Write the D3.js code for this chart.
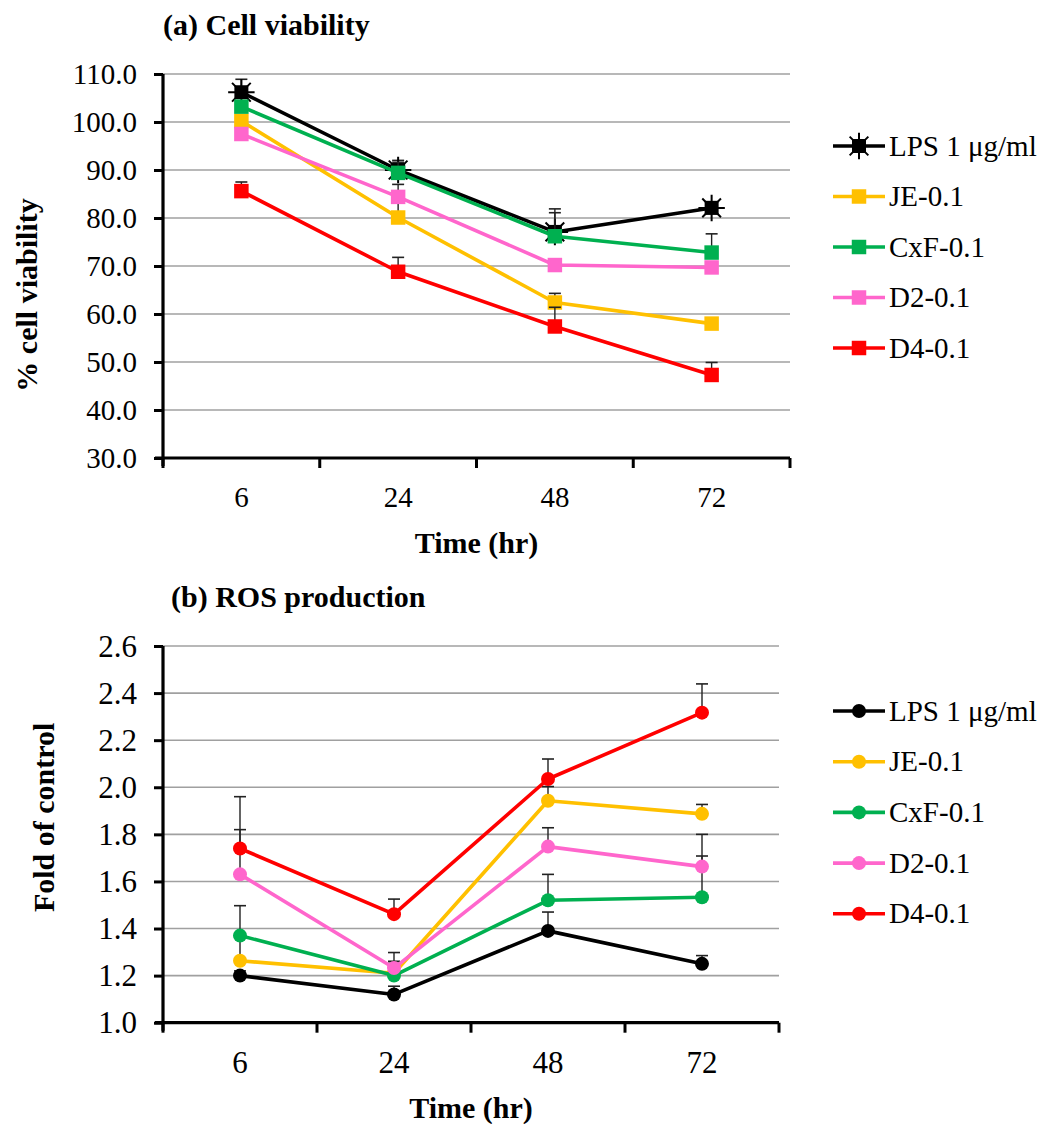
<!DOCTYPE html>
<html>
<head>
<meta charset="utf-8">
<script src="https://cdn.jsdelivr.net/npm/d3@7"></script>
<style>
  html, body { margin: 0; padding: 0; background: #fff; }
  svg { display: block; }
  svg text { font-family: "Liberation Serif", "Times New Roman", Times, serif !important; fill: #000; }
</style>
</head>
<body>
<svg id="fig" width="1051" height="1124"></svg>
<script>
// Time points (hours) shared by both panels
const timeLabels = ["6", "24", "48", "72"];
const seriesNames = ["LPS 1 μg/ml", "JE-0.1", "CxF-0.1", "D2-0.1", "D4-0.1"];
const seriesColors = ["#000000", "#FFC000", "#00B050", "#FF66CC", "#FF0000"];

// (a) Cell viability, % (mean per series, then +SD)
const viabilityMeans = [
  [106.2, 90.0, 77.1, 82.1],
  [100.2, 80.1, 62.4, 58.0],
  [103.2, 89.4, 76.2, 72.8],
  [97.5, 84.4, 70.2, 69.7],
  [85.6, 68.8, 57.4, 47.3]
];
const viabilityErrors = [
  [2.7, 2.0, 4.8, 1.3],
  [1.0, 3.8, 1.9, 0.8],
  [1.0, 2.2, 4.9, 3.9],
  [1.0, 2.6, 1.0, 1.0],
  [1.9, 3.0, 4.0, 2.6]
];
const viabilityTicks = [30, 40, 50, 60, 70, 80, 90, 100, 110];

// (b) ROS production, fold of control
const rosMeans = [
  [1.20, 1.12, 1.39, 1.25],
  [1.263, 1.21, 1.943, 1.887],
  [1.37, 1.20, 1.52, 1.533],
  [1.63, 1.232, 1.748, 1.663],
  [1.74, 1.461, 2.035, 2.317]
];
const rosErrors = [
  [0.02, 0.035, 0.08, 0.035],
  [0.10, 0.05, 0.06, 0.04],
  [0.127, 0.06, 0.11, 0.175],
  [0.19, 0.066, 0.08, 0.137],
  [0.22, 0.064, 0.085, 0.122]
];
const rosTicks = [1.0, 1.2, 1.4, 1.6, 1.8, 2.0, 2.2, 2.4, 2.6];

const FONT = '"Liberation Serif", "Times New Roman", Times, serif';
const svg = d3.select("#fig");

function drawPanel(cfg) {
  const g = svg.append("g").attr("font-family", FONT);
  const x = d3.scaleBand().domain(timeLabels).range([cfg.left, cfg.right]);
  const y = d3.scaleLinear().domain(d3.extent(cfg.ticks)).range([cfg.bottom, cfg.top]);
  const cx = t => x(t) + x.bandwidth() / 2;

  // horizontal gridlines
  g.append("g").selectAll("line").data(cfg.ticks.slice(1)).join("line")
    .attr("x1", cfg.left).attr("x2", cfg.right)
    .attr("y1", d => y(d)).attr("y2", d => y(d))
    .attr("stroke", "#a0a0a0").attr("stroke-width", 1.6);

  // y axis
  const yAxis = g.append("g").attr("transform", `translate(${cfg.left},0)`)
    .call(d3.axisLeft(y).tickValues(cfg.ticks).tickFormat(d3.format(".1f"))
      .tickSize(9).tickPadding(17))
    .attr("font-family", FONT);
  yAxis.select(".domain").attr("stroke", "#000").attr("stroke-width", 3.2)
    .attr("d", `M0,${cfg.top}V${cfg.bottom + 8}`);
  yAxis.selectAll(".tick line").attr("stroke", "#000").attr("stroke-width", 3);
  yAxis.selectAll(".tick text").attr("font-size", cfg.tickFont)
    .attr("dy", "0.33em").attr("fill", "#111");

  // x axis: labels at category centres, tick marks on category boundaries
  const xAxis = g.append("g").attr("transform", `translate(0,${cfg.bottom})`)
    .call(d3.axisBottom(x).tickSize(0).tickPadding(0))
    .attr("font-family", FONT);
  xAxis.select(".domain").attr("stroke", "#000").attr("stroke-width", 3.2)
    .attr("d", `M${cfg.left - 8},0H${cfg.right}`);
  xAxis.selectAll(".tick text").attr("font-size", cfg.tickFont)
    .attr("y", cfg.xLabelOffset).attr("dy", "0.33em").attr("fill", "#111");
  const bounds = timeLabels.map(t => x(t)).concat([x(timeLabels[timeLabels.length - 1]) + x.bandwidth()]);
  xAxis.append("g").selectAll("line").data(bounds).join("line")
    .attr("x1", d => d).attr("x2", d => d).attr("y1", 0).attr("y2", 10)
    .attr("stroke", "#000").attr("stroke-width", 3);

  // titles
  g.append("text").attr("x", cfg.titleX).attr("y", cfg.titleY)
    .attr("font-size", 30).attr("font-weight", "bold").text(cfg.title);
  g.append("text")
    .attr("transform", `translate(${cfg.yTitleX},${(cfg.top + cfg.bottom) / 2 + cfg.yTitleShift}) rotate(-90)`)
    .attr("text-anchor", "middle").attr("dy", "0.33em")
    .attr("font-size", 30).attr("font-weight", "bold").text(cfg.yTitle);
  g.append("text").attr("x", (cfg.left + cfg.right) / 2).attr("y", cfg.bottom + 85)
    .attr("text-anchor", "middle").attr("dy", "0.33em")
    .attr("font-size", 30).attr("font-weight", "bold").text("Time (hr)");

  const line = d3.line().x((d, i) => cx(timeLabels[i])).y(d => y(d));

  // draw marker at (px, py)
  function marker(sel, s, px, py) {
    const c = seriesColors[s];
    if (cfg.shape === "circle") {
      sel.append("circle").attr("cx", px).attr("cy", py).attr("r", 7).attr("fill", c);
    } else if (s === 0) {
      // star marker: filled square with short asterisk spikes
      sel.append("path").attr("transform", `translate(${px},${py})`)
        .attr("d", d3.symbol(d3.symbolSquare, 196)()).attr("fill", c);
      sel.append("path").attr("transform", `translate(${px},${py})`)
        .attr("d", d3.symbol(d3.symbolX, 230)())
        .attr("stroke", c).attr("stroke-width", 2).attr("fill", "none");
      sel.append("path").attr("transform", `translate(${px},${py})`)
        .attr("d", d3.symbol(d3.symbolPlus, 230)())
        .attr("stroke", c).attr("stroke-width", 2).attr("fill", "none");
    } else {
      sel.append("path").attr("transform", `translate(${px},${py})`)
        .attr("d", d3.symbol(d3.symbolSquare, 210)()).attr("fill", c);
    }
  }

  cfg.means.forEach((vals, s) => {
    const sg = g.append("g");
    // error bars (+SD)
    vals.forEach((v, i) => {
      const px = cx(timeLabels[i]);
      const top = y(v + cfg.errors[s][i]);
      sg.append("line").attr("x1", px).attr("x2", px).attr("y1", y(v)).attr("y2", top)
        .attr("stroke", "#222").attr("stroke-width", 1.4);
      sg.append("line").attr("x1", px - 6).attr("x2", px + 6).attr("y1", top).attr("y2", top)
        .attr("stroke", "#222").attr("stroke-width", 1.6);
    });
    sg.append("path").datum(vals).attr("d", line)
      .attr("fill", "none").attr("stroke", seriesColors[s]).attr("stroke-width", 3.6)
      .attr("stroke-linejoin", "round");
    vals.forEach((v, i) => marker(sg, s, cx(timeLabels[i]), y(v)));
  });

  // legend
  const lg = g.append("g");
  seriesNames.forEach((name, s) => {
    const ly = cfg.legendY + s * cfg.legendStep;
    lg.append("line").attr("x1", 833).attr("x2", 885).attr("y1", ly).attr("y2", ly)
      .attr("stroke", seriesColors[s]).attr("stroke-width", 3.6);
    marker(lg, s, 859, ly);
    lg.append("text").attr("x", 889).attr("y", ly).attr("dy", "0.33em")
      .attr("font-size", 29).attr("fill", "#111").text(name);
  });
}

drawPanel({
  left: 163, right: 790, top: 74, bottom: 458,
  ticks: viabilityTicks, means: viabilityMeans, errors: viabilityErrors,
  tickFont: 29, xLabelOffset: 39, shape: "square",
  title: "(a) Cell viability", titleX: 163, titleY: 35,
  yTitle: "% cell viability", yTitleX: 27, yTitleShift: 29,
  legendY: 146, legendStep: 50.5
});

drawPanel({
  left: 163, right: 779, top: 646, bottom: 1022.7,
  ticks: rosTicks, means: rosMeans, errors: rosErrors,
  tickFont: 31, xLabelOffset: 40, shape: "circle",
  title: "(b) ROS production", titleX: 171, titleY: 607,
  yTitle: "Fold of control", yTitleX: 44, yTitleShift: -17,
  legendY: 711, legendStep: 50.7
});
</script>
</body>
</html>
